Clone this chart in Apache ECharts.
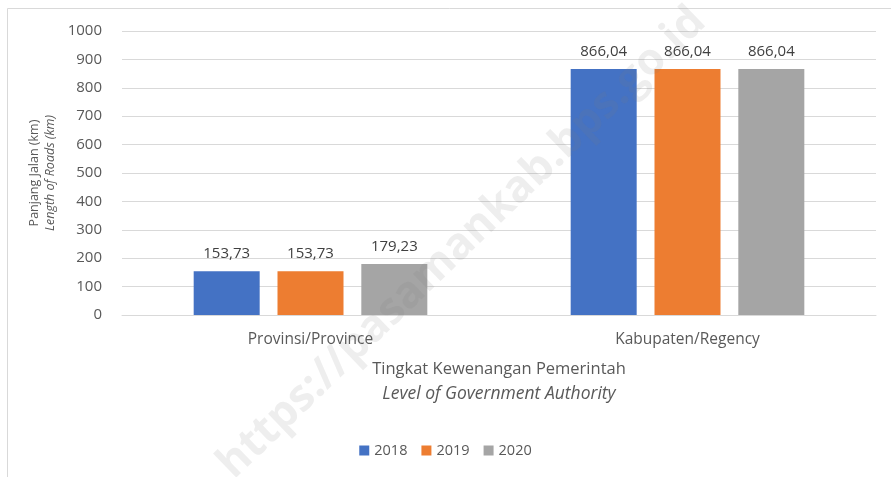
<!DOCTYPE html>
<html>
<head>
<meta charset="utf-8">
<script src="https://cdn.jsdelivr.net/npm/echarts@6/dist/echarts.min.js"></script>
<style>
  html, body { margin: 0; padding: 0; background: #fff; }
  #main { width: 891px; height: 477px; }
</style>
</head>
<body>
<div id="main"></div>
<script>
// data
const categories = ['Provinsi/Province', 'Kabupaten/Regency'];
const years = ['2018', '2019', '2020'];
const values2018 = [153.73, 866.04];
const values2019 = [153.73, 866.04];
const values2020 = [179.23, 866.04];
const colors = ['#4472c4', '#ed7d31', '#a5a5a5'];

const font = '"Open Sans", "Noto Sans", sans-serif';
const myChart = echarts.init(document.getElementById('main'));

const fmt = p => p.value.toFixed(2).replace('.', ',');

const seriesData = [values2018, values2019, values2020];

myChart.setOption({
    backgroundColor: '#fff',
    textStyle: { fontFamily: font },
    grid: { left: 122, right: 15, top: 31, bottom: 162, containLabel: false },
    legend: {
        bottom: 14,
        left: 'center',
        itemWidth: 10,
        itemHeight: 10,
        itemGap: 14,
        icon: 'rect',
        textStyle: { fontFamily: font, fontSize: 14.5, color: '#595959' },
        data: years
    },
    xAxis: {
        type: 'category',
        data: categories,
        axisTick: { show: false },
        axisLine: { lineStyle: { color: '#d9d9d9' } },
        axisLabel: { fontFamily: font, fontSize: 15.5, color: '#595959', margin: 17 },
        name: '{a|Tingkat Kewenangan Pemerintah}\n{b|Level of Government Authority}',
        nameLocation: 'middle',
        nameGap: 42,
        nameTextStyle: {
            rich: {
                a: { fontFamily: font, fontSize: 16.5, color: '#595959', lineHeight: 25 },
                b: { fontFamily: font, fontSize: 17.5, color: '#595959', fontStyle: 'italic', lineHeight: 25 }
            }
        }
    },
    yAxis: {
        type: 'value',
        min: 0,
        max: 1000,
        interval: 100,
        axisLine: { show: false },
        axisTick: { show: false },
        splitLine: { lineStyle: { color: '#d9d9d9' } },
        axisLabel: { fontFamily: font, fontSize: 15, color: '#595959', margin: 20, formatter: v => String(v) },
        name: '{a|Panjang Jalan (km)}\n{b|Length of Roads (km)}',
        nameLocation: 'middle',
        nameGap: 60,
        nameTextStyle: {
            rich: {
                a: { fontFamily: font, fontSize: 12.5, color: '#595959', lineHeight: 16 },
                b: { fontFamily: font, fontSize: 12.5, color: '#595959', fontStyle: 'italic', lineHeight: 16 }
            }
        }
    },
    series: years.map((y, i) => ({
        name: y,
        type: 'bar',
        data: seriesData[i],
        barWidth: 66,
        barGap: '27%',
        itemStyle: { color: colors[i] },
        label: {
            show: true,
            position: 'top',
            distance: 10,
            formatter: fmt,
            fontFamily: font,
            fontSize: 15,
            color: '#404040'
        }
    })),
    graphic: [
        {
            type: 'rect',
            shape: { x: 7.5, y: 8.5, width: 900, height: 500 },
            style: { fill: 'none', stroke: '#d9d9d9', lineWidth: 1 },
            silent: true
        },
        {
            type: 'text',
            x: 462,
            y: 243,
            rotation: Math.PI / 4.1,
            z: 100,
            style: {
                text: 'https://pasamankab.bps.go.id',
                font: 'bold 44px "Open Sans", sans-serif',
                fill: 'rgba(120,120,120,0.13)',
                align: 'center',
                verticalAlign: 'middle'
            },
            silent: true
        }
    ]
});
</script>
</body>
</html>
